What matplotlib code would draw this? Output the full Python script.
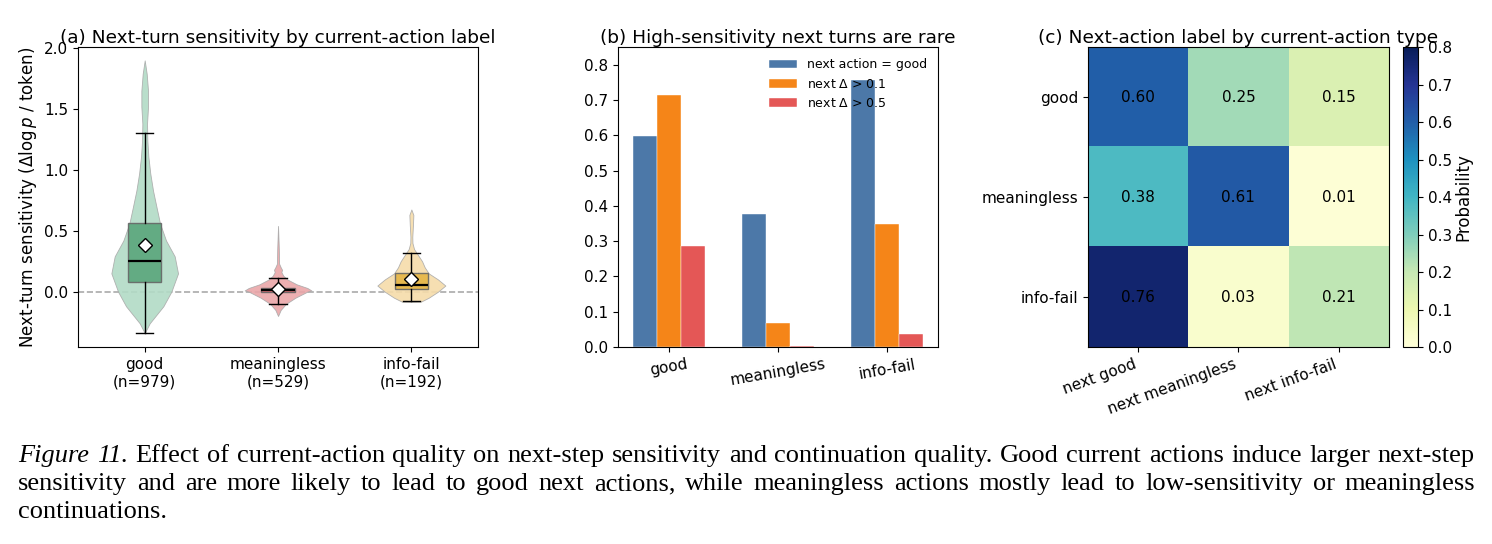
import numpy as np
import matplotlib.pyplot as plt

# ---- data ----
labels = ["good", "meaningless", "info-fail"]
counts = [979, 529, 192]

# violin outlines: (value, half-width) pairs
violin_y = [
    [-0.34, -0.26, -0.12, 0.00, 0.15, 0.29, 0.42, 0.56, 0.70, 0.83, 0.97, 1.11, 1.24, 1.38, 1.52, 1.65, 1.79, 1.90],
    [-0.20, -0.15, -0.10, -0.05, 0.00, 0.01, 0.03, 0.06, 0.10, 0.13, 0.16, 0.18, 0.20, 0.23, 0.35, 0.54],
    [-0.085, -0.083, -0.05, 0.00, 0.05, 0.10, 0.15, 0.20, 0.25, 0.30, 0.35, 0.40, 0.45, 0.55, 0.63, 0.675],
]
violin_w = [
    [0.00, 0.0375, 0.14, 0.20, 0.25, 0.225, 0.16, 0.115, 0.0875, 0.0625, 0.042, 0.0275, 0.02, 0.0175, 0.025, 0.025, 0.015, 0.0],
    [0.00, 0.02, 0.06, 0.13, 0.22, 0.25, 0.22, 0.14, 0.07, 0.04, 0.025, 0.03, 0.02, 0.008, 0.006, 0.0],
    [0.00, 0.07, 0.13, 0.20, 0.255, 0.20, 0.13, 0.10, 0.08, 0.05, 0.02, 0.008, 0.007, 0.012, 0.015, 0.0],
]

# box stats: q1, median, q3, whisker low/high, mean
q1 = [0.08, -0.005, 0.02]
med = [0.25, 0.01, 0.055]
q3 = [0.565, 0.03, 0.15]
whislo = [-0.34, -0.10, -0.08]
whishi = [1.30, 0.115, 0.32]
means = [0.38, 0.02, 0.10]

# panel b
next_good = [0.598, 0.376, 0.756]
next_d01 = [0.715, 0.068, 0.349]
next_d05 = [0.287, 0.003, 0.037]

# panel c
next_cols = ["next good", "next meaningless", "next info-fail"]
trans = np.array([[0.60, 0.25, 0.15],
                  [0.38, 0.61, 0.01],
                  [0.76, 0.03, 0.21]])

caption_lines = [
    "Effect of current-action quality on next-step sensitivity and continuation quality. Good current actions induce larger next-step",
    "sensitivity and are more likely to lead to good next actions, while meaningless actions mostly lead to low-sensitivity or meaningless",
    "continuations.",
]

violin_colors = ["#b2dbc6", "#eaa6a9", "#f6dcaa"]
box_colors = ["#5aa67c", "#d4646b", "#e6b544"]

fig = plt.figure(figsize=(14.92, 5.44), dpi=100)

# ---- (a) violins + boxes ----
ax1 = fig.add_axes([0.0523, 0.3621, 0.2681, 0.5515])
for i in range(3):
    y = np.array(violin_y[i])
    w = np.array(violin_w[i])
    ax1.fill_betweenx(y, i - w, i + w, facecolor=violin_colors[i], alpha=0.9,
                      edgecolor="#aaaaaa", linewidth=0.6, zorder=1)

ax1.axhline(0, color="#aaaaaa", linestyle="--", linewidth=1.2, zorder=0.5)

stats = []
for i in range(3):
    stats.append(dict(q1=q1[i], med=med[i], q3=q3[i], whislo=whislo[i],
                      whishi=whishi[i], mean=means[i], fliers=[]))
bp = ax1.bxp(stats, positions=[0, 1, 2], widths=0.25, capwidths=0.13,
             patch_artist=True, showmeans=True, showfliers=False,
             medianprops=dict(color="black", linewidth=1.6),
             whiskerprops=dict(color="black", linewidth=1),
             capprops=dict(color="black", linewidth=1),
             meanprops=dict(marker="D", markerfacecolor="white",
                            markeredgecolor="black", markersize=7))
for patch, c in zip(bp["boxes"], box_colors):
    patch.set_facecolor(c)
    patch.set_edgecolor("#666666")
    patch.set_alpha(0.9)
    patch.set_zorder(2)
for k in ["medians", "whiskers", "caps", "means"]:
    for a in bp[k]:
        a.set_zorder(3)

ax1.set_xlim(-0.5, 2.5)
ax1.set_ylim(-0.455, 2.01)
ax1.set_yticks([0.0, 0.5, 1.0, 1.5, 2.0])
ax1.set_xticks([0, 1, 2])
ax1.set_xticklabels([f"{l}\n(n={n})" for l, n in zip(labels, counts)], fontsize=11)
ax1.tick_params(axis="y", labelsize=11)
ax1.set_ylabel(r"Next-turn sensitivity ($\Delta \log p$ / token)", fontsize=12)
ax1.set_title("(a) Next-turn sensitivity by current-action label", fontsize=13.3, pad=3)

# ---- (b) grouped bars ----
ax2 = fig.add_axes([0.4142, 0.3621, 0.2145, 0.5515])
x = np.arange(len(labels))
bw = 0.22
ax2.bar(x - bw, next_good, bw, color="#4c78a8", edgecolor="white", linewidth=0.3, label="next action = good")
ax2.bar(x, next_d01, bw, color="#f58518", edgecolor="white", linewidth=0.3, label=r"next $\Delta$ > 0.1")
ax2.bar(x + bw, next_d05, bw, color="#e45756", edgecolor="white", linewidth=0.3, label=r"next $\Delta$ > 0.5")
ax2.set_ylim(0, 0.85)
ax2.set_yticks(np.arange(0, 0.81, 0.1))
ax2.set_xticks(x)
ax2.set_xticklabels(labels, rotation=10, fontsize=11)
ax2.tick_params(axis="y", labelsize=11)
ax2.legend(loc="upper right", frameon=False, fontsize=9, handlelength=2.2)
ax2.set_title("(b) High-sensitivity next turns are rare", fontsize=13.3, pad=3)

# ---- (c) heatmap ----
ax3 = fig.add_axes([0.7292, 0.3621, 0.2017, 0.5515])
im = ax3.imshow(trans, cmap="YlGnBu", vmin=0, vmax=0.8, aspect="auto")
for r in range(3):
    for c in range(3):
        ax3.text(c, r, f"{trans[r, c]:.2f}", ha="center", va="center", fontsize=11, color="black")
ax3.set_xticks(range(3))
ax3.set_xticklabels(next_cols, rotation=20, ha="right", fontsize=11)
ax3.set_yticks(range(3))
ax3.set_yticklabels(labels, fontsize=11)
ax3.set_title("(c) Next-action label by current-action type", fontsize=13.3, pad=3)
cax = fig.add_axes([0.9403, 0.3621, 0.0101, 0.5515])
cb = fig.colorbar(im, cax=cax)
cb.set_ticks(np.arange(0, 0.81, 0.1))
cb.ax.tick_params(labelsize=11)
cb.set_label("Probability", fontsize=12, labelpad=2)

# ---- caption, justified word by word ----
fig.canvas.draw()
renderer = fig.canvas.get_renderer()
W, H = fig.get_size_inches() * fig.dpi
x0, x1 = 18, 1475
line_base = [462, 490, 518]
cap_fs = 19


def word_width(txt, style):
    t = fig.text(0, 0, txt, fontsize=cap_fs, family="Liberation Serif", style=style)
    w = t.get_window_extent(renderer).width
    t.remove()
    return w


space_w = word_width("a a", "normal") - word_width("aa", "normal")
for li, line in enumerate(caption_lines):
    words = [(w, "normal") for w in line.split(" ")]
    if li == 0:
        words = [("Figure", "italic"), ("11.", "italic")] + words
    widths = [word_width(w, s) for w, s in words]
    if li < len(caption_lines) - 1:
        gap = (x1 - x0 - sum(widths)) / (len(words) - 1)
    else:
        gap = space_w
    xp = x0
    for (w, s), ww in zip(words, widths):
        fig.text(xp / W, 1 - line_base[li] / H, w, fontsize=cap_fs, family="Liberation Serif",
                 style=s, va="baseline", ha="left")
        xp += ww + gap

fig.savefig("out.png", dpi=100)
